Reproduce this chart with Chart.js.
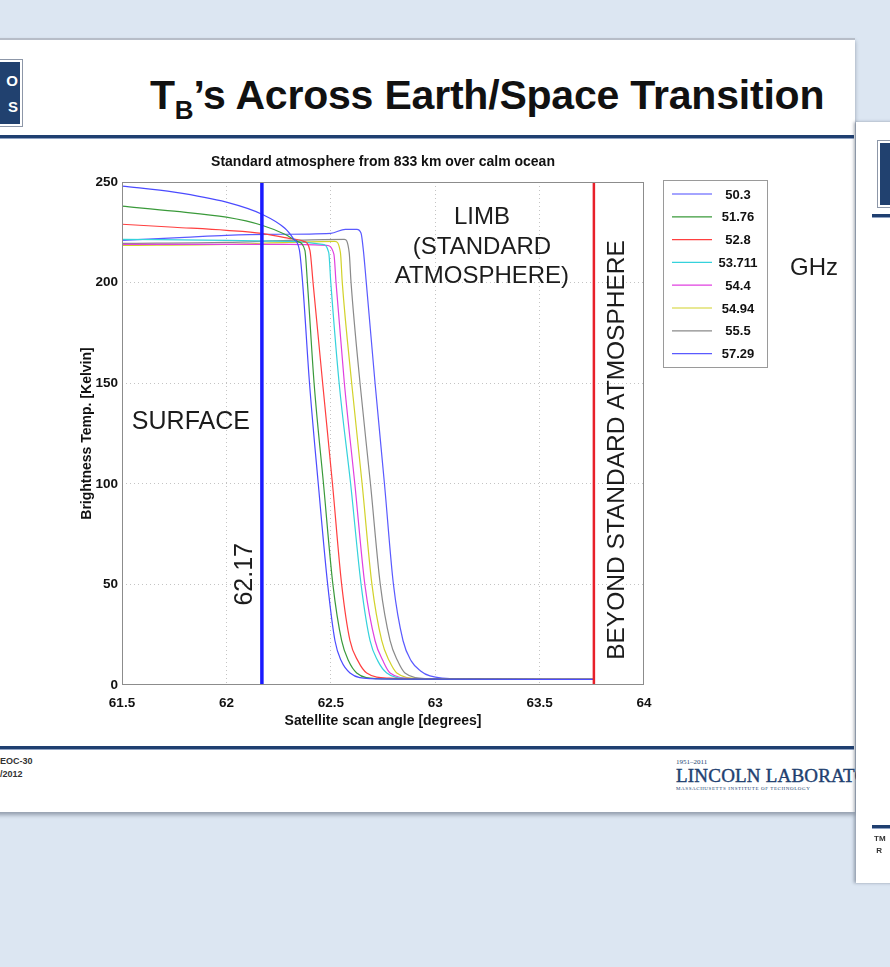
<!DOCTYPE html>
<html>
<head>
<meta charset="utf-8">
<script src="https://cdn.jsdelivr.net/npm/chart.js@4.4.1/dist/chart.umd.min.js"></script>
<style>
  html, body { margin: 0; padding: 0; }
  body { width: 890px; height: 967px; background: #dce6f2; position: relative; overflow: hidden;
         font-family: "Liberation Sans", Arial, sans-serif; }
  .abs { position: absolute; }
  #slide { left: -10px; top: 38px; width: 865px; height: 772px; background: #fff;
           border-top: 2px solid #b7bdc8; box-shadow: 0 3px 4px rgba(60, 70, 90, .45); }
  #logo { left: -30px; top: 60px; width: 48px; height: 62px; background: #21416f;
          border: 2px solid #fff; outline: 1px solid #8d97a8; }
  #logo span { position: absolute; right: 2px; color: #fff; font-weight: bold; font-size: 15px; }
  #title { left: 150px; top: 72px; font-size: 41px; font-weight: bold; color: #111; white-space: nowrap; letter-spacing: -0.2px; }
  #title sub { font-size: 26px; vertical-align: -10px; }
  .rule { height: 3px; background: #1f3f70; border-bottom: 1px solid #8fa2c2; }
  #foot1 { left: 0; top: 755px; font-size: 9px; font-weight: bold; color: #333; line-height: 13px; }
  #ll { left: 676px; top: 758px; font-family: "Liberation Serif", "Times New Roman", serif; color: #213f70; white-space: nowrap; }
  #ll .yr { font-size: 7px; }
  #ll .nm { font-size: 19px; letter-spacing: 0.2px; line-height: 20px; -webkit-text-stroke: 0.4px #213f70; }
  #ll .sub { font-size: 5px; letter-spacing: 0.6px; }
  #side { left: 856px; top: 122px; width: 40px; height: 761px; background: #fff;
          box-shadow: -2px 0 3px rgba(60, 70, 90, .45); z-index: 5; }
  #chartBox { left: 60px; top: 140px; width: 800px; height: 590px; }
</style>
</head>
<body>
<div id="slide" class="abs"></div>
<div id="logo" class="abs"><span style="top:10px">O</span><span style="top:36px">S</span></div>
<div id="title" class="abs">T<sub>B</sub>’s Across Earth/Space Transition</div>
<div class="abs rule" style="left:0; top:135px; width:854px;"></div>
<div class="abs rule" style="left:0; top:746px; width:854px;"></div>
<div id="foot1" class="abs">EOC-30<br>/2012</div>
<div id="ll" class="abs"><div class="yr">1951–2011</div><div class="nm">LINCOLN LABORATORY</div><div class="sub">MASSACHUSETTS INSTITUTE OF TECHNOLOGY</div></div>
<div id="side" class="abs">
  <div class="abs" style="left:22px; top:19px; width:20px; height:62px; background:#21416f; border:2px solid #fff; outline:1px solid #8d97a8;"></div>
  <div class="abs rule" style="left:16px; top:92px; width:30px;"></div>
  <div class="abs rule" style="left:16px; top:703px; width:30px;"></div>
  <div class="abs" style="left:18px; top:711px; font-size:8px; font-weight:bold; color:#333; line-height:12px;">TM<br>&nbsp;R</div>
</div>
<div id="chartBox" class="abs"><canvas id="tb" width="800" height="590"></canvas></div>

<script>
// frequencies in GHz
const freqs = ['50.3', '51.76', '52.8', '53.711', '54.4', '54.94', '55.5', '57.29'];

// scan angle [deg] / brightness temperature [K], one pair per channel
const ang503 = [61.5, 61.75, 62.0, 62.17, 62.28, 62.32, 62.35, 62.365, 62.398, 62.44, 62.485, 62.52, 62.55, 62.592, 62.69, 63.0, 63.76];
const tb503  = [248, 245, 240, 234, 227, 222, 216, 200, 150, 100, 50, 22, 12, 6, 3.2, 2.9, 2.8];
const ang5176 = [61.5, 61.75, 62.0, 62.17, 62.28, 62.34, 62.376, 62.388, 62.42, 62.465, 62.51, 62.552, 62.585, 62.624, 62.72, 63.0, 63.76];
const tb5176  = [238, 235.5, 232.5, 228.5, 224, 220.5, 216, 200, 150, 100, 50, 22, 12, 6, 3.2, 2.9, 2.8];
const ang528 = [61.5, 61.75, 62.0, 62.17, 62.3, 62.37, 62.4, 62.415, 62.461, 62.508, 62.552, 62.592, 62.63, 62.672, 62.78, 63.05, 63.76];
const tb528  = [229, 227.5, 226, 224.5, 222, 220.5, 216, 200, 150, 100, 50, 22, 12, 6, 3.4, 2.9, 2.8];
const ang53711 = [61.5, 62.0, 62.3, 62.46, 62.49, 62.5, 62.54, 62.595, 62.645, 62.688, 62.725, 62.768, 62.87, 63.1, 63.76];
const tb53711  = [221.5, 221, 220.5, 219, 215, 200, 150, 100, 50, 22, 12, 6, 3.2, 2.9, 2.8];
const ang544 = [61.5, 62.0, 62.3, 62.48, 62.515, 62.525, 62.565, 62.615, 62.663, 62.712, 62.75, 62.784, 62.89, 63.1, 63.76];
const tb544  = [219, 219, 219, 218.5, 214, 200, 150, 100, 50, 22, 12, 6, 3.2, 2.9, 2.8];
const ang5494 = [61.5, 62.0, 62.3, 62.52, 62.546, 62.555, 62.6, 62.65, 62.697, 62.744, 62.78, 62.816, 62.92, 63.15, 63.76];
const tb5494  = [218.5, 219, 220, 220.5, 215, 200, 150, 100, 50, 22, 12, 6, 3.2, 2.9, 2.8];
const ang555 = [61.5, 62.0, 62.3, 62.565, 62.588, 62.597, 62.64, 62.69, 62.737, 62.784, 62.82, 62.855, 62.96, 63.2, 63.76];
const tb555  = [219.5, 220, 221, 221.5, 215, 200, 150, 100, 50, 22, 12, 6, 3.2, 2.9, 2.8];
const ang5729 = [61.5, 61.8, 62.0, 62.2, 62.5, 62.57, 62.625, 62.645, 62.656, 62.67, 62.712, 62.757, 62.8, 62.846, 62.885, 62.93, 62.975, 63.12, 63.76];
const tb5729  = [221, 222.5, 223.5, 224, 224.5, 226.5, 226.5, 224.5, 216, 200, 150, 100, 50, 22, 12, 7, 4.5, 3, 2.8];

// marker lines (deg)
const surfaceEdge = 62.17;
const atmosphereEdge = 63.76;

const xTicks = [61.5, 62, 62.5, 63, 63.5, 64];
const yTicks = [0, 50, 100, 150, 200, 250];

const angles = [ang503, ang5176, ang528, ang53711, ang544, ang5494, ang555, ang5729];
const temps = [tb503, tb5176, tb528, tb53711, tb544, tb5494, tb555, tb5729];
const colors = ['#4b4bff', '#3a9a3a', '#ff3f3f', '#35d2dc', '#e040e0', '#d2d22a', '#8a8a8a', '#5a5aff'];

const FONT = '"Liberation Sans", Arial, sans-serif';

const curveSets = freqs.map((f, i) => ({
  label: f,
  data: angles[i].map((a, k) => ({ x: a, y: temps[i][k] })),
  borderColor: colors[i],
  borderWidth: 1.2,
  pointRadius: 0,
  cubicInterpolationMode: 'monotone',
  fill: false
}));

const markerSets = [
  { label: 'surface', data: [{ x: surfaceEdge, y: 0 }, { x: surfaceEdge, y: 250 }], borderColor: '#1a1aff', borderWidth: 3.5, pointRadius: 0, order: -1 },
  { label: 'beyond', data: [{ x: atmosphereEdge, y: 0 }, { x: atmosphereEdge, y: 250 }], borderColor: '#e8202a', borderWidth: 2.5, pointRadius: 0, order: -1 }
];

// texts placed in data units
const notes = [
  { text: 'SURFACE', x: 61.83, y: 130.7, rot: 0, size: 25 },
  { text: '62.17', x: 62.09, y: 55, rot: -90, size: 25 },
  { text: 'LIMB', x: 63.224, y: 232.6, rot: 0, size: 24 },
  { text: '(STANDARD', x: 63.224, y: 217.7, rot: 0, size: 24 },
  { text: 'ATMOSPHERE)', x: 63.224, y: 203.3, rot: 0, size: 24 },
  { text: 'BEYOND STANDARD ATMOSPHERE', x: 63.871, y: 116.8, rot: -90, size: 24.5 },
  { text: 'GHz', x: 64.814, y: 207.3, rot: 0, size: 24 }
];

const slideNotes = {
  id: 'slideNotes',
  afterDatasetsDraw(chart) {
    const { ctx, chartArea: a, scales } = chart;
    ctx.save();
    ctx.strokeStyle = '#8c8c8c';
    ctx.lineWidth = 1;
    ctx.strokeRect(a.left + 0.5, a.top + 0.5, a.right - a.left - 1, a.bottom - a.top - 1);

    ctx.fillStyle = '#1c1c1c';
    ctx.textAlign = 'center';
    ctx.textBaseline = 'middle';
    notes.forEach(n => {
      ctx.save();
      ctx.font = n.size + 'px ' + FONT;
      ctx.translate(scales.x.getPixelForValue(n.x), scales.y.getPixelForValue(n.y));
      ctx.rotate(n.rot * Math.PI / 180);
      ctx.fillText(n.text, 0, 0);
      ctx.restore();
    });

    // legend box
    const lx = a.right + 19, ly = a.top - 2, lw = 104, lh = 187;
    ctx.fillStyle = '#fff';
    ctx.fillRect(lx, ly, lw, lh);
    ctx.strokeStyle = '#9a9a9a';
    ctx.strokeRect(lx + 0.5, ly + 0.5, lw, lh);
    ctx.font = 'bold 13px ' + FONT;
    freqs.forEach((f, i) => {
      const yy = ly + 14 + i * 22.8;
      ctx.strokeStyle = colors[i];
      ctx.lineWidth = 1.2;
      ctx.beginPath();
      ctx.moveTo(lx + 9, yy);
      ctx.lineTo(lx + 49, yy);
      ctx.stroke();
      ctx.fillStyle = '#111';
      ctx.fillText(f, lx + 75, yy + 1);
    });
    ctx.restore();
  }
};

const gridColor = c => (c.tick && (c.index === 0 || c.index === c.chart.scales[c.scale.id].ticks.length - 1)) ? 'rgba(0,0,0,0)' : '#c4c4c4';

new Chart(document.getElementById('tb'), {
  type: 'line',
  data: { datasets: [...curveSets, ...markerSets] },
  options: {
    responsive: false,
    animation: false,
    devicePixelRatio: 1,
    layout: { padding: { left: 0, right: 216, top: 0, bottom: 0 } },
    plugins: {
      legend: { display: false },
      tooltip: { enabled: false },
      title: {
        display: true,
        fullSize: false,
        text: 'Standard atmosphere from 833 km over calm ocean',
        color: '#111',
        font: { family: FONT, size: 14, weight: 'bold' },
        padding: { top: 13.6, bottom: 11.6 }
      }
    },
    scales: {
      x: {
        type: 'linear',
        min: 61.5, max: 64,
        afterBuildTicks: s => { s.ticks = xTicks.map(v => ({ value: v })); },
        afterFit: s => { s.height = 45; },
        ticks: { color: '#111', padding: 10, maxRotation: 0, font: { family: FONT, size: 13.5, weight: 'bold' }, callback: v => String(v) },
        grid: { color: gridColor, drawTicks: false, lineWidth: 1 },
        border: { display: false, dash: [1, 3] },
        title: { display: true, text: 'Satellite scan angle [degrees]', color: '#111', padding: 0, font: { family: FONT, size: 14, weight: 'bold' } }
      },
      y: {
        min: 0, max: 250,
        afterBuildTicks: s => { s.ticks = yTicks.map(v => ({ value: v })); },
        afterFit: s => { s.width = 62; },
        ticks: { color: '#111', padding: 4, font: { family: FONT, size: 13.5, weight: 'bold' }, callback: v => String(v) },
        grid: { color: gridColor, drawTicks: false, lineWidth: 1 },
        border: { display: false, dash: [1, 3] },
        title: { display: true, text: 'Brightness Temp. [Kelvin]', color: '#111', padding: { top: 18.6, bottom: 0 }, font: { family: FONT, size: 14, weight: 'bold' } }
      }
    }
  },
  plugins: [slideNotes]
});
</script>
</body>
</html>
